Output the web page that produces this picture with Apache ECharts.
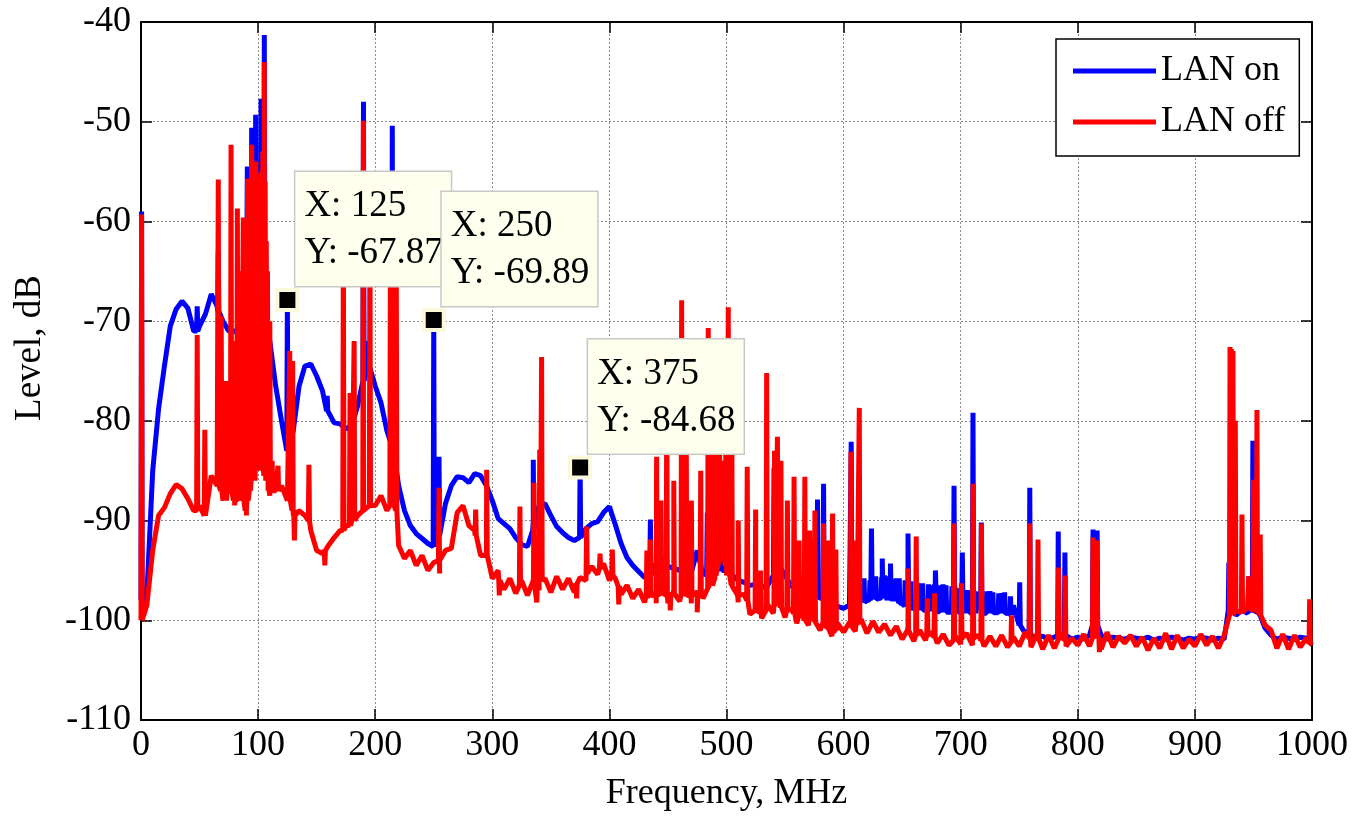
<!DOCTYPE html>
<html>
<head>
<meta charset="utf-8">
<script src="https://cdn.jsdelivr.net/npm/echarts@6/dist/echarts.min.js"></script>
<style>
html,body{margin:0;padding:0;background:#fff;}
#chart{width:1354px;height:825px;}
</style>
</head>
<body>
<div id="chart"></div>
<script>
// ---- data ----
const freqStep = 5; // MHz between baseline samples (0 ... 1000)
const xTicks = [0, 100, 200, 300, 400, 500, 600, 700, 800, 900, 1000];
const yTicks = [-110, -100, -90, -80, -70, -60, -50, -40];

// LAN on (blue) baseline level, dB, every 5 MHz
const lanOnBase = [
  -98, -97.5, -85, -78.8, -74.5, -70.5, -68.8, -68, -68.7, -71,
  -70.5, -69.3, -67.3, -68.5, -70, -71, -71, -71.5, -71, -71,
  -71, -70.5, -72, -76.5, -80, -83, -81, -76.5, -74.5, -74.3,
  -75.5, -77, -79, -80.2, -80.3, -80.8, -80.5, -78.5, -76, -74.5,
  -76.5, -78.2, -81, -83.5, -86.5, -89, -90.5, -91.3, -91.8, -92.3,
  -92.6, -91.5, -88.3, -86.5, -85.6, -85.7, -86.2, -85.3, -85.5, -86.5,
  -88, -89.8, -90.3, -90.8, -91.7, -92.4, -92.6, -90, -88.5, -88.3,
  -89.5, -90.6, -91.2, -91.7, -92, -91.7, -90.8, -90.3, -90.1, -89.2,
  -88.6, -90.4, -92.3, -93.7, -94.5, -95.1, -95.7, -95.5, -94.3, -94.5,
  -94.6, -94.8, -95, -95, -95.2, -93, -95.5, -93, -94, -95,
  -95, -95.5, -96, -96.2, -96.5, -96.4, -96.7, -96.5, -95.5, -94.5,
  -95.5, -96.5, -97, -97.2, -97.5, -97.3, -97.8, -98.3, -98.5, -98.6,
  -98.8, -98.5, -98.2, -96.3, -98, -95.8, -97.8, -95.5, -97.9, -95.8,
  -98.3, -96, -98.8, -96.3, -99, -96.5, -99.1, -96.4, -99.2, -96.6,
  -99.2, -97, -99.3, -97.2, -99.3, -97.1, -99.2, -97.3, -99.3, -98.5,
  -100.5, -101.3, -101.5, -101.8, -101.6, -101.9, -101.7, -101.8, -101.6, -101.9,
  -101.7, -101.9, -101.5, -99, -101.5, -101.9, -101.7, -101.8, -101.9, -101.7,
  -101.8, -101.9, -101.7, -102, -101.8, -101.9, -101.7, -101.8, -102, -101.8,
  -101.9, -101.7, -101.8, -102, -101.8, -101.9, -98, -99.5, -99, -99.3,
  -98, -99.3, -100.8, -101.5, -101.9, -101.7, -101.8, -101.9, -101.7, -101.8,
  -101.9
];

// LAN off (red) baseline level, dB, every 5 MHz
const lanOffBase = [
  -100, -98.5, -93, -89.5, -88.7, -87.3, -86.4, -86.8, -87.8, -89,
  -88.5, -89.5, -85.5, -86.5, -88, -87, -88.5, -87.5, -89.5, -86,
  -84, -85.5, -87.5, -87, -86.5, -88, -89.5, -89, -89.5, -91,
  -93, -93.3, -92.5, -91.7, -91, -90.5, -90, -89.5, -89, -88.5,
  -88.5, -87.5, -89, -88, -92.5, -93.8, -93, -94.5, -93.5, -95,
  -94.2, -95.3, -93, -92.8, -89.2, -88.5, -90.5, -91, -93.5, -93,
  -95.8, -95, -96.9, -95.8, -97.3, -96, -97.5, -96, -97, -95.8,
  -97.2, -95.6, -96.9, -95.8, -97.2, -95.7, -96, -94.6, -95.4, -94.3,
  -96, -95.8, -97.4, -96.5, -97.8, -96.9, -98.2, -97, -98.3, -97.2,
  -98.3, -96.9, -98.1, -97.2, -98.3, -97, -97.8, -96.2, -95.8, -93.5,
  -95.5, -96.6, -98.2, -97.4, -99.4, -98.5, -99.8, -98.4, -99.3, -98.2,
  -99.7, -98.8, -100.3, -99.4, -100.5, -99.8, -101, -100.2, -101.6, -100.3,
  -101.2, -100.2, -101.1, -99.9, -101.3, -100.1, -101.2, -100.4, -101.5, -100.6,
  -101.9, -100.7, -102.1, -101, -102, -101.2, -102.3, -101.4, -102.5, -101.5,
  -102.4, -101.3, -102.5, -101.5, -102.6, -101.6, -102.6, -101.5, -102.7, -101.7,
  -102.6, -101.2, -102.7, -101.4, -102.9, -101.5, -102.8, -101.3, -102.6, -101.8,
  -102.5, -101.4, -102.6, -101, -102.9, -101.2, -102.7, -101.6, -102.3, -101.5,
  -102.6, -101.7, -103, -101.8, -102.8, -101.3, -102.9, -101.5, -102.8, -101.9,
  -102.6, -101.4, -102.5, -101.6, -102.8, -101.5, -99.5, -99, -99.2, -98.7,
  -99, -98.8, -100.5, -101, -102.8, -101.4, -102.9, -101.5, -102.7, -101.8,
  -102.5
];

// narrow lines: [frequency MHz, peak dB, foot dB]
const lanOnSpikes = [
  [0.5, -59, -98], [48, -68.5, -71], [66, -63, -69], [90.8, -54.5, -71], [94.5, -50.6, -71],
  [97.9, -49.3, -71], [102.5, -47.7, -71], [105.3, -41.3, -71], [125, -67.87, -83],
  [159, -77.5, -79], [190, -48, -76], [193, -72, -75], [214.6, -50.4, -82.5],
  [250, -69.89, -92.6], [254.5, -83.6, -91.5], [335, -83.9, -91], [375, -84.68, -91.7],
  [435, -89.9, -95.5], [483.6, -89.2, -95], [496, -86, -95], [499.5, -89, -95],
  [540.6, -84.7, -96], [577.7, -87.9, -97.5], [582.9, -86.3, -97.8], [606.5, -82.1, -98.5],
  [612.5, -96.5, -98.5], [617.5, -95.8, -98.2], [622.5, -96, -98], [623.8, -90.8, -96.5],
  [627.5, -95.6, -97.9], [632.5, -95.7, -97.8], [633, -93.8, -96.8], [637.5, -95.6, -98],
  [640, -94.3, -96.5], [642.5, -95.9, -98.1], [647.5, -95.8, -98.3], [652.5, -96, -98.6],
  [655, -91.3, -97], [657.5, -96.1, -98.8], [662.5, -96.2, -99], [667.5, -96.3, -99],
  [672.5, -96.4, -99.1], [677.5, -96.4, -99.1], [678.4, -95, -97], [682.5, -96.5, -99.2],
  [687.5, -96.5, -99.2], [692.5, -96.6, -99.2], [694.3, -86.5, -97.5], [697.5, -96.8, -99.2],
  [701.4, -93.2, -98], [702.5, -97, -99.3], [707.5, -97, -99.3], [710.5, -79.2, -98],
  [712.5, -97.1, -99.3], [717.6, -90.2, -98], [722.5, -97.1, -99.3], [727.5, -97.2, -99.3],
  [732.5, -97.3, -99.3], [737.5, -97.2, -99.3], [742.5, -97.6, -99.4],
  [750.4, -96.2, -100.5], [759, -86.7, -101], [783.3, -91.1, -101.5],
  [789, -93.2, -101.5], [813, -90.9, -100.5], [816.5, -91, -100.5], [929, -94.2, -99],
  [946, -95.6, -99], [949.5, -82, -99]
];

const lanOffSpikes = [
  [0.5, -59.3, -100], [48, -71.4, -89], [54.5, -80.9, -89.5], [66, -55.8, -86.5],
  [68.5, -69.5, -87], [71, -81, -88], [72.5, -76, -88], [74, -78, -87], [76.9, -52.3, -87],
  [79.5, -72, -88], [82.3, -58.7, -88], [84, -73, -88], [85, -65, -88], [87.4, -59.6, -88],
  [89.5, -70, -89], [91, -55.7, -88], [93, -60, -87], [94.5, -52.3, -86], [95.5, -60, -86],
  [96.5, -58, -86], [97, -57, -86], [98, -54, -85], [99, -56, -85], [100, -55.2, -84],
  [101, -58, -84], [102, -57, -85], [103, -55, -85], [104, -53, -85], [105.3, -44, -85],
  [106, -56, -85], [107, -62, -86], [108, -65, -86], [109, -75, -87], [110, -70, -87],
  [112, -84, -87], [117, -84.5, -87], [127, -73, -88], [129.5, -74, -89], [131, -92, -89.5],
  [143.4, -84.4, -90], [157, -94.5, -93], [172.8, -62, -91], [178.5, -77.2, -90.5],
  [182, -72, -90], [189.9, -49.9, -89], [195.5, -60, -88.5], [213, -62, -88.5],
  [214.6, -57, -88], [218, -65, -89], [254.5, -86.7, -94], [285.8, -88.9, -91.5],
  [295.2, -84.9, -93.5], [306, -97.5, -96], [323.6, -88.6, -96.5], [335.6, -86.2, -96.5],
  [338, -98.2, -96.3], [340.5, -82.9, -96], [342.1, -73.6, -96], [372, -97.8, -96.3],
  [380.6, -90.6, -95.3], [392, -93.3, -94.8], [402.5, -92.9, -95.5], [408, -98.4, -96.6],
  [432, -93, -97.5], [435, -91.9, -97.6], [440.3, -83.6, -97.2], [444, -88, -97.5],
  [449, -76, -97.5], [452, -99, -97.4], [455, -86, -97.3], [461.7, -67.9, -97.4],
  [465.5, -74, -97.6], [470, -88, -97.3], [475, -99.2, -97.5], [478, -85, -97.2],
  [484.4, -70.7, -96.8], [487.5, -76, -96.5], [490.5, -82, -95.5], [494, -79, -94],
  [497, -84, -93.5], [499.5, -78, -94.5], [501.5, -68.6, -95], [504.6, -82, -96.5],
  [510, -90, -97.5], [517.7, -84.6, -98], [524.9, -88.9, -99], [529, -95, -99.2],
  [534.3, -75.2, -99], [541, -83, -98.6], [543.5, -81.6, -98.6], [546.5, -84, -98.7],
  [552, -88, -99], [557.7, -85.6, -99.3], [562, -92, -99.6], [566.9, -85.6, -100],
  [571, -91, -99.8], [575.5, -89, -100.2], [582.9, -90.3, -100.2], [586.5, -92, -100.8],
  [590.6, -89.3, -101.2], [593.4, -92.9, -101], [606.3, -83.1, -100.6], [611, -92, -100.5],
  [613.4, -78.7, -100.4], [655, -94.8, -101], [662, -91.6, -101.5], [671.5, -97.8, -101.5],
  [677.7, -97.3, -101.7], [694.3, -90.3, -102], [700.6, -96.3, -101.8], [710.6, -86.3, -101.8],
  [717.7, -90.3, -102], [743.4, -99.5, -102.2], [759, -90.3, -101.8], [766, -91.9, -101.8],
  [783.6, -94.7, -102], [789.3, -95.5, -102], [813, -91.7, -101.8], [816.5, -92, -101.5],
  [818.5, -103.2, -101.8], [930, -72.6, -99.5], [931.2, -72.8, -99.5], [932.5, -73, -99.5],
  [934.5, -80, -99], [940.2, -89.4, -99.2], [946, -95.6, -98.8], [950, -85.9, -99],
  [953, -78.9, -99], [955.8, -91.4, -99.5], [998, -97.9, -102.3]
];

// data tips
const tipFreq = [125, 250, 375];
const tipLevel = [-67.87, -69.89, -84.68];

const seriesNames = ['LAN on', 'LAN off'];

// ---- build traces ----
function buildTrace(base, spikes) {
  const pts = base.map((v, i) => [i * freqStep, v]);
  spikes.forEach(s => {
    pts.push([s[0] - 0.5, s[2]], [s[0], s[1]], [s[0] + 0.5, s[2]]);
  });
  pts.sort((a, b) => a[0] - b[0]);
  return pts;
}

const FONT = "'Liberation Serif', 'Times New Roman', serif";
const chart = echarts.init(document.getElementById('chart'), null, {renderer: 'canvas'});

const axisLineStyle = {color: '#000', width: 2};
const gridLine = {show: true, lineStyle: {color: '#8a8a8a', width: 1, type: [2, 2]}};
const tickStyle = {show: true, inside: true, length: 11, lineStyle: {color: '#000', width: 1.5}};

chart.setOption({
  animation: false,
  backgroundColor: '#fff',
  grid: {left: 141, right: 42, top: 22, bottom: 105, containLabel: false},
  legend: {
    data: seriesNames,
    orient: 'vertical',
    left: 1056, top: 39,
    icon: 'rect',
    itemWidth: 83, itemHeight: 5,
    itemGap: 11,
    padding: [12, 14, 14, 17],
    borderColor: '#000', borderWidth: 1.5,
    backgroundColor: '#fff',
    itemStyle: {borderWidth: 0},
    textStyle: {fontFamily: FONT, fontSize: 36, color: '#000', lineHeight: 40}
  },
  xAxis: [{
    type: 'value', position: 'bottom',
    min: xTicks[0], max: xTicks[xTicks.length - 1], interval: 100,
    name: 'Frequency, MHz', nameLocation: 'middle', nameGap: 56,
    nameTextStyle: {fontFamily: FONT, fontSize: 36, color: '#000'},
    axisLine: {show: true, onZero: false, lineStyle: axisLineStyle},
    axisTick: tickStyle,
    axisLabel: {fontFamily: FONT, fontSize: 36, color: '#000', margin: 8, formatter: v => String(v)},
    splitLine: gridLine
  }, {
    type: 'value', position: 'top',
    min: xTicks[0], max: xTicks[xTicks.length - 1], interval: 100,
    axisLine: {show: true, onZero: false, lineStyle: axisLineStyle},
    axisTick: tickStyle,
    axisLabel: {show: false},
    splitLine: {show: false}
  }],
  yAxis: [{
    type: 'value', position: 'left',
    min: yTicks[0], max: yTicks[yTicks.length - 1], interval: 10,
    name: 'Level, dB', nameLocation: 'middle', nameGap: 92,
    nameTextStyle: {fontFamily: FONT, fontSize: 37, color: '#000', padding: [0, 0, 0, 46]},
    axisLine: {show: true, onZero: false, lineStyle: axisLineStyle},
    axisTick: tickStyle,
    axisLabel: {fontFamily: FONT, fontSize: 36, color: '#000', margin: 10, formatter: v => String(v)},
    splitLine: gridLine
  }, {
    type: 'value', position: 'right',
    min: yTicks[0], max: yTicks[yTicks.length - 1], interval: 10,
    axisLine: {show: true, onZero: false, lineStyle: axisLineStyle},
    axisTick: tickStyle,
    axisLabel: {show: false},
    splitLine: {show: false}
  }],
  series: [{
    name: seriesNames[0], type: 'line', xAxisIndex: 0, yAxisIndex: 0,
    data: buildTrace(lanOnBase, lanOnSpikes),
    showSymbol: false, symbol: 'none', sampling: null,
    lineStyle: {color: '#0000ff', width: 5}, itemStyle: {color: '#0000ff'},
    z: 2
  }, {
    name: seriesNames[1], type: 'line', xAxisIndex: 0, yAxisIndex: 0,
    data: buildTrace(lanOffBase, lanOffSpikes),
    showSymbol: false, symbol: 'none', sampling: null,
    lineStyle: {color: '#ff0000', width: 5}, itemStyle: {color: '#ff0000'},
    z: 3
  }, {
    name: 'tips', type: 'scatter', xAxisIndex: 0, yAxisIndex: 0,
    data: tipFreq.map((f, i) => [f, tipLevel[i]]),
    symbol: 'rect', symbolSize: 20,
    itemStyle: {color: '#000', borderColor: '#fbf8dc', borderWidth: 4, opacity: 1},
    z: 10,
    label: {
      show: true,
      position: [20, -2],
      align: 'left', verticalAlign: 'bottom',
      formatter: p => 'X: ' + p.value[0] + '\nY: ' + p.value[1],
      fontFamily: FONT, fontSize: 37, lineHeight: 47, color: '#000', opacity: 1,
      backgroundColor: '#ffffee', borderColor: '#c8c8c8', borderWidth: 1.5,
      padding: [11, 8, 9, 9]
    },
    emphasis: {disabled: true}
  }]
});
</script>
</body>
</html>
